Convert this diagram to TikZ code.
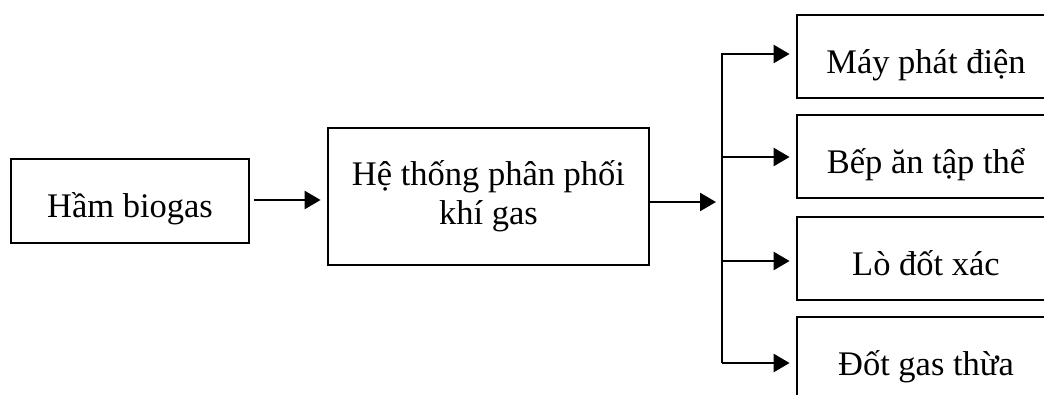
\documentclass[tikz,border=0pt]{standalone}
\usepackage{fontspec}
\setmainfont{Liberation Serif}
\usetikzlibrary{arrows.meta}
\begin{document}
\begin{tikzpicture}[x=1pt,y=-1pt,
  box/.style={draw=black, line width=2.8pt, inner sep=0pt, align=center,
    font=\fontsize{34.5}{39}\selectfont},
  onebox/.style={box, text height=33pt, text depth=0pt},
  arr/.style={line width=2.6pt, -{Triangle[length=16pt,width=18pt]}},
  bus/.style={line width=1.8pt}]
  \useasboundingbox (0,0) rectangle (1044,394);
  \clip (0,0) rectangle (1044,394);

  % source and distribution
  \node[onebox, minimum width=238pt, minimum height=84pt] (ham) at (130,201) {Hầm biogas};
  \node[box, minimum width=321pt, minimum height=137pt] (he) at (488.5,196.5)
    {Hệ thống phân phối\\khí gas};

  % consumers (boxes run past the right and bottom edges)
  \node[onebox, minimum width=258pt, minimum height=83pt] (may) at (926,56.5) {Máy phát điện};
  \node[onebox, minimum width=258pt, minimum height=83pt] (bep) at (926,156.5) {Bếp ăn tập thể};
  \node[onebox, minimum width=258pt, minimum height=83pt] (lo) at (926,258.5) {Lò đốt xác};
  \node[onebox, minimum width=258pt, minimum height=83pt] (dot) at (926,358.5) {Đốt gas thừa};

  % distribution bus
  \coordinate (busTop) at (722,53);
  \coordinate (busBot) at (722,363);
  \coordinate (busIn) at (722,202);
  \coordinate (sA) at (722,54);
  \coordinate (sB) at (722,157);
  \coordinate (sC) at (722,261);
  \draw[bus] (busTop) -- (busBot);

  % connectors
  \draw[arr, shorten <=4pt, shorten >=6pt] (ham.east |- 0,200) -- (he.west |- 0,200);
  \draw[arr, shorten >=6pt] (he.east |- busIn) -- (busIn);
  \draw[arr, shorten >=6pt] (sA) -- (sA -| may.west);
  \draw[arr, shorten >=6pt] (sB) -- (sB -| bep.west);
  \draw[arr, shorten >=6pt] (sC) -- (sC -| lo.west);
  \draw[arr, shorten >=6pt] (busBot) -- (busBot -| dot.west);
\end{tikzpicture}
\end{document}
